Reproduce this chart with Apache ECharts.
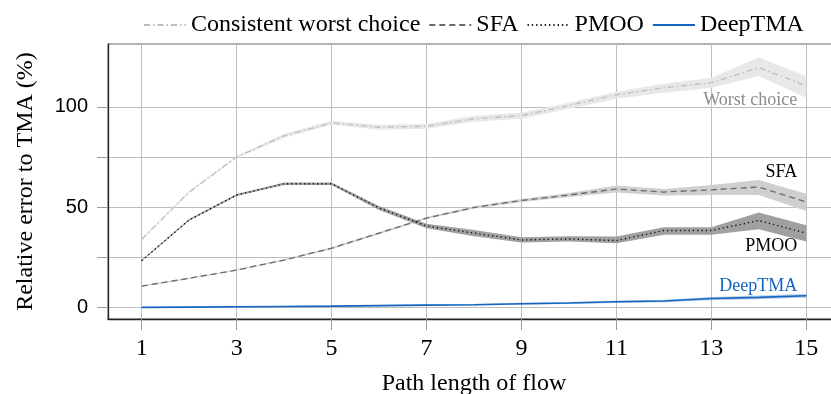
<!DOCTYPE html>
<html>
<head>
<meta charset="utf-8">
<script src="https://cdn.jsdelivr.net/npm/echarts@6/dist/echarts.min.js"></script>
<style>
  html, body { margin: 0; padding: 0; background: #ffffff; }
  #chart { width: 831px; height: 394px; }
</style>
</head>
<body>
<div id="chart"></div>
<script>
// Path length of the analysed flow (x axis)
const pathLengths = [1, 2, 3, 4, 5, 6, 7, 8, 9, 10, 11, 12, 13, 14, 15];
const xTickLabels = [1, 3, 5, 7, 9, 11, 13, 15];
const yTickLabels = [0, 50, 100];
const yGridValues = [0, 25, 50, 75, 100];

// Consistent worst choice: mean and spread
const worstMean = [34, 57.5, 75, 85.5, 92, 89.8, 90.3, 94, 95.6, 100.6, 106, 109.5, 112, 119.5, 110.5];
const worstLow  = [33.5, 57, 74.5, 84.5, 91, 88.5, 89, 92.5, 94, 99, 104, 107, 109.5, 115.4, 104.5];
const worstHigh = [34.5, 58, 75.5, 86.5, 93, 91, 91.5, 95.5, 97, 102, 107.5, 111.5, 114.5, 124.6, 115.3];

// SFA
const sfaMean = [10.6, 14.5, 18.6, 23.6, 29.5, 37, 44.5, 49.8, 53.3, 56, 59, 57.5, 58.6, 60, 52.5];
const sfaLow  = [10.3, 14.2, 18.3, 23.2, 29, 36.5, 44, 49.2, 52.5, 55, 57.3, 55.8, 56, 56, 48];
const sfaHigh = [10.9, 14.8, 18.9, 24, 30, 37.5, 45, 50.4, 54, 57, 60.7, 59, 61, 63.5, 56.7];

// PMOO
const pmooMean = [23.3, 43.6, 56, 61.6, 61.6, 49.5, 40.6, 37, 33.6, 34.1, 33.3, 38.3, 38.3, 43.3, 37];
const pmooLow  = [23, 43.2, 55.5, 61, 61, 48.5, 39.5, 35.5, 32.3, 32.8, 32, 36.2, 36.2, 39, 32.8];
const pmooHigh = [23.6, 44, 56.5, 62.2, 62.2, 50.5, 41.7, 38.6, 35, 35.4, 35.3, 40, 40, 47.3, 41];

// DeepTMA
const deepMean = [0, 0.1, 0.3, 0.45, 0.6, 0.85, 1.1, 1.3, 1.8, 2.2, 2.8, 3.2, 4.4, 5.0, 5.8];
const deepLow  = [-0.2, -0.1, 0.1, 0.2, 0.3, 0.5, 0.7, 0.9, 1.3, 1.7, 2.2, 2.6, 3.6, 4.1, 4.8];
const deepHigh = [0.2, 0.3, 0.5, 0.7, 0.9, 1.2, 1.5, 1.7, 2.3, 2.7, 3.4, 3.8, 5.2, 5.9, 6.8];

const SERIF = 'Liberation Serif, "Times New Roman", serif';
const SANS = 'Liberation Sans, Arial, sans-serif';

const pairs = (ys) => pathLengths.map((x, i) => [x, ys[i]]);

// Shaded spread between the low and high runs, drawn as one polygon
function band(low, high, color) {
  return {
    type: 'custom', coordinateSystem: 'cartesian2d', z: 1, silent: true,
    data: pathLengths.map((x, i) => [x, low[i], high[i]]),
    encode: { x: 0, y: [1, 2] },
    renderItem: function (params, api) {
      if (params.dataIndex !== 0) return;
      const upper = pathLengths.map((x, i) => api.coord([x, high[i]]));
      const lower = pathLengths.map((x, i) => api.coord([x, low[i]])).reverse();
      return {
        type: 'polygon',
        shape: { points: upper.concat(lower) },
        style: { fill: color }
      };
    }
  };
}

function curve(name, mean, color, type, width, tag, extra) {
  return Object.assign({
    name: name, type: 'line', z: 3, data: pairs(mean),
    symbol: 'none', silent: true,
    lineStyle: { color: color, type: type, width: width },
    itemStyle: { color: color },
    markPoint: {
      silent: true, symbolSize: 0, animation: false,
      data: [{ coord: [15, tag.y] }],
      label: {
        show: true, position: 'left', distance: 9,
        formatter: tag.text, color: tag.color,
        fontFamily: SERIF, fontSize: 18
      }
    }
  }, extra || {});
}

const gridLines = {
  silent: true, z: 0, animation: false,
  symbol: ['none', 'none'],
  label: { show: false },
  lineStyle: { color: '#bdbdbd', type: 'solid', width: 1 },
  data: yGridValues.map(v => ({ yAxis: v })).concat(xTickLabels.map(v => ({ xAxis: v })))
};

const series = [
  band(worstLow, worstHigh, '#e8e8e8'),
  band(sfaLow, sfaHigh, '#cfcfcf'),
  band(pmooLow, pmooHigh, '#a0a0a0'),
  band(deepLow, deepHigh, 'rgba(21,101,192,0.3)'),
  curve('Consistent worst choice', worstMean, '#bebebe', [6, 3, 1.5, 3], 1.3,
    { y: 103, text: 'Worst choice', color: '#8c8c8c' }, { markLine: gridLines }),
  curve('SFA', sfaMean, '#6a6a6a', [6, 4], 1.3,
    { y: 67.4, text: 'SFA', color: '#000000' }),
  curve('PMOO', pmooMean, '#111111', [1.3, 3], 1.4,
    { y: 30.7, text: 'PMOO', color: '#000000' }),
  curve('DeepTMA', deepMean, '#1565c0', 'solid', 1.6,
    { y: 10.6, text: 'DeepTMA', color: '#1565c0' })
];

const chart = echarts.init(document.getElementById('chart'), null, { renderer: 'canvas' });
chart.setOption({
  animation: false,
  backgroundColor: '#ffffff',
  grid: {
    left: 108, top: 44, bottom: 75, right: -9,
    outerBoundsMode: 'none', containLabel: false,
    show: true, borderColor: '#666666', borderWidth: 1, backgroundColor: 'transparent'
  },
  legend: {
    top: 8, left: 138,
    itemWidth: 42, itemHeight: 14, itemGap: 8,
    data: ['Consistent worst choice', 'SFA', 'PMOO', 'DeepTMA'],
    itemStyle: { color: 'rgba(0,0,0,0)', borderColor: 'rgba(0,0,0,0)', borderWidth: 0 },
    textStyle: { fontFamily: SERIF, fontSize: 24, color: '#000000' }
  },
  xAxis: {
    type: 'value', min: 0.29, max: 15.71,
    name: 'Path length of flow', nameLocation: 'middle', nameGap: 53,
    nameTextStyle: { fontFamily: SERIF, fontSize: 24, color: '#000000' },
    axisLine: { show: true, onZero: false, lineStyle: { color: '#222222', width: 1.3 } },
    axisTick: { show: true, customValues: xTickLabels, length: 11, lineStyle: { color: '#9a9a9a' } },
    axisLabel: { customValues: xTickLabels, fontFamily: SERIF, fontSize: 24, color: '#000000', margin: 18 },
    splitLine: { show: false }
  },
  yAxis: {
    type: 'value', min: -5.8, max: 131.3,
    name: 'Relative error to TMA (%)', nameLocation: 'middle', nameGap: 70, nameRotate: 90,
    nameTextStyle: { fontFamily: SERIF, fontSize: 24, color: '#000000' },
    axisLine: { show: true, onZero: false, lineStyle: { color: '#222222', width: 1.3 } },
    axisTick: { show: true, customValues: yGridValues, length: 11, lineStyle: { color: '#9a9a9a' } },
    axisLabel: { customValues: yTickLabels, fontFamily: SANS, fontSize: 20, color: '#000000', margin: 20 },
    splitLine: { show: false }
  },
  series: series
});
</script>
</body>
</html>
